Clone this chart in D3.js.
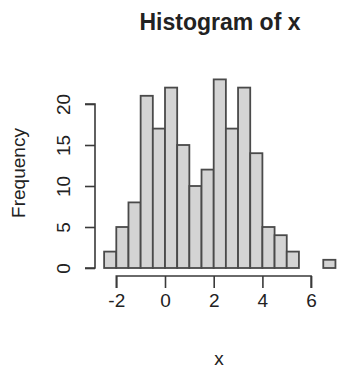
<!DOCTYPE html>
<html>
<head>
<meta charset="utf-8">
<script src="https://cdn.jsdelivr.net/npm/d3@7"></script>
<style>
html,body{margin:0;padding:0;background:#fff;}
svg{display:block;}
text{font-family:"Liberation Sans",Arial,Helvetica,sans-serif;fill:#222;}
</style>
</head>
<body>
<svg id="chart" width="341" height="370"></svg>
<script>
// Histogram bins (left edges, width 0.5) and counts
const binStarts = [-2.5,-2,-1.5,-1,-0.5,0,0.5,1,1.5,2,2.5,3,3.5,4,4.5,5,5.5,6,6.5];
const binWidth = 0.5;
const counts = [2,5,8,21,17,22,15,10,12,23,17,22,14,5,4,2,0,0,1];
const xTicks = [-2,0,2,4,6];
const yTicks = [0,5,10,15,20];
const title = "Histogram of x";
const xLabel = "x";
const yLabel = "Frequency";

const svg = d3.select("#chart");
const x = d3.scaleLinear().domain([-2, 6]).range([116.3, 311.1]);
const y = d3.scaleLinear().domain([0, 20]).range([268, 104]);

// bars
svg.append("g").selectAll("rect")
  .data(binStarts.map((s,i)=>({s, c:counts[i]})))
  .join("rect")
  .attr("x", d => x(d.s))
  .attr("width", d => x(d.s + binWidth) - x(d.s))
  .attr("y", d => y(d.c))
  .attr("height", d => y(0) - y(d.c))
  .attr("fill", "#d4d4d4")
  .attr("stroke", "#4a4a4a")
  .attr("stroke-width", 1.8);

// x axis
const xAxis = svg.append("g").attr("transform", "translate(0,276)")
  .call(d3.axisBottom(x).tickValues(xTicks).tickSize(12).tickPadding(6)
        .tickFormat(d => String(d)));
xAxis.select(".domain").attr("d", `M${x(-2)},12V0H${x(6)}V12`);
xAxis.selectAll("line, path").attr("stroke", "#3a3a3a").attr("stroke-width", 1.6);
xAxis.selectAll("text").attr("font-size", 19).attr("fill", "#222")
  .attr("font-family", '"Liberation Sans",Arial,sans-serif');

// y axis
const yAxis = svg.append("g").attr("transform", "translate(95,0)")
  .call(d3.axisLeft(y).tickValues(yTicks).tickSize(10).tickPadding(0));
yAxis.select(".domain").attr("d", `M-10,${y(0)}H0V${y(20)}H-10`);
yAxis.selectAll("line, path").attr("stroke", "#3a3a3a").attr("stroke-width", 1.6);
yAxis.selectAll("text")
  .attr("font-size", 19).attr("fill", "#222")
  .attr("font-family", '"Liberation Sans",Arial,sans-serif')
  .attr("x", null).attr("dy", null)
  .attr("text-anchor", "middle")
  .attr("transform", "translate(-25,0) rotate(-90)");

// title
svg.append("text").attr("x", 220).attr("y", 30)
  .attr("text-anchor", "middle").attr("font-size", 23).attr("font-weight", "bold")
  .attr("fill", "#111").text(title);

// x label
svg.append("text").attr("x", 219).attr("y", 365)
  .attr("text-anchor", "middle").attr("font-size", 19).text(xLabel);

// y label
svg.append("text").attr("transform", "translate(25,173) rotate(-90)")
  .attr("text-anchor", "middle").attr("font-size", 19).text(yLabel);
</script>
</body>
</html>
